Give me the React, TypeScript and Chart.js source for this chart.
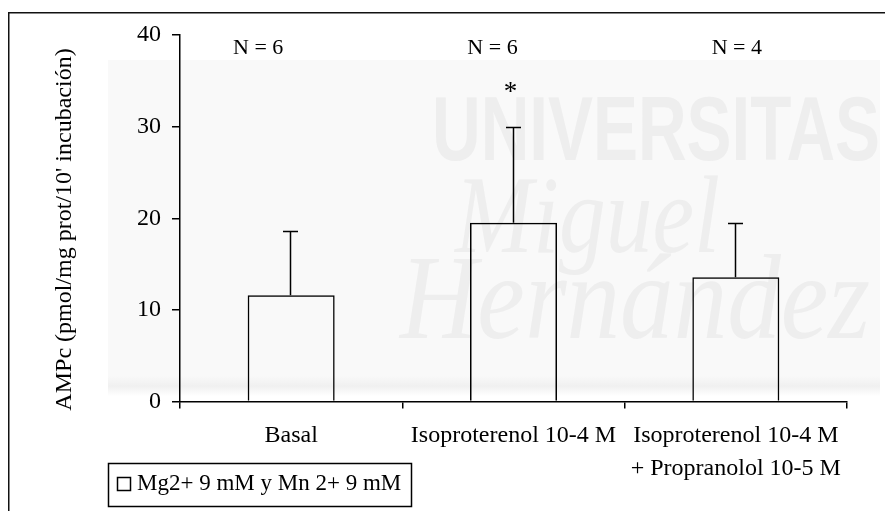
import React, { useEffect, useRef } from "react";
import { Chart, registerables } from "chart.js";

Chart.register(...registerables);

// ---- data ----
const CATEGORIES: (string | string[])[] = [
  "Basal",
  "Isoproterenol 10-4 M",
  ["Isoproterenol 10-4 M", "+ Propranolol 10-5 M"],
];
const MEAN_VALUES = [11.6, 19.5, 13.55];
const ERROR_TOP = [18.6, 30.0, 19.45];
const N_LABELS = ["N = 6", "N = 6", "N = 4"];
const SIGNIFICANCE = ["", "*", ""];
const SERIES_LABEL = "Mg2+ 9 mM y Mn 2+ 9 mM";
const Y_TICKS = [0, 10, 20, 30, 40];
const Y_TITLE = "AMPc (pmol/mg prot/10' incubación)";
const WATERMARK = ["UNIVERSITAS", "Miguel", "Hernández"];

const SERIF = "'Liberation Serif', 'Times New Roman', serif";
const SANS = "'Liberation Sans', Arial, sans-serif";
const INK = "#000";

const watermarkPlugin = {
  id: "watermark",
  beforeDraw(chart: any) {
    const ctx = chart.ctx as CanvasRenderingContext2D;
    ctx.save();
    ctx.fillStyle = "#f9f9f9";
    ctx.fillRect(108, 60, 772, 320);
    const g = ctx.createLinearGradient(0, 376, 0, 396);
    g.addColorStop(0, "#f9f9f9");
    g.addColorStop(0.5, "#f0f0f0");
    g.addColorStop(1, "#ffffff");
    ctx.fillStyle = g;
    ctx.fillRect(108, 376, 772, 20);
    ctx.fillStyle = "#eeeeee";
    ctx.textBaseline = "alphabetic";
    ctx.textAlign = "left";
    ctx.font = `bold 90px ${SANS}`;
    ctx.fillText(WATERMARK[0], 432, 160, 448);
    ctx.font = `italic 110px ${SERIF}`;
    ctx.fillText(WATERMARK[1], 455, 252, 265);
    ctx.font = `italic 120px ${SERIF}`;
    ctx.fillText(WATERMARK[2], 400, 338, 470);
    ctx.restore();
  },
};

const errorBarPlugin = {
  id: "errorBars",
  afterDatasetsDraw(chart: any) {
    const meta = chart.getDatasetMeta(0);
    const yScale = chart.scales.y;
    const ctx = chart.ctx as CanvasRenderingContext2D;
    ctx.save();
    ctx.strokeStyle = INK;
    ctx.lineWidth = 1.5;
    meta.data.forEach((bar: any, i: number) => {
      const x = Math.round(bar.x) - 0.5;
      const top = Math.round(yScale.getPixelForValue(ERROR_TOP[i])) + 0.5;
      ctx.beginPath();
      ctx.moveTo(x, bar.y);
      ctx.lineTo(x, top);
      ctx.moveTo(x - 7.5, top);
      ctx.lineTo(x + 7.5, top);
      ctx.stroke();
    });
    ctx.restore();
  },
};

const N_OFFSETS = [-33, -21, 1];

const annotationPlugin = {
  id: "annotations",
  afterDraw(chart: any) {
    const ctx = chart.ctx as CanvasRenderingContext2D;
    const meta = chart.getDatasetMeta(0);
    ctx.save();
    ctx.fillStyle = INK;
    ctx.strokeStyle = INK;
    // N labels and significance marks
    ctx.textAlign = "center";
    ctx.textBaseline = "alphabetic";
    meta.data.forEach((bar: any, i: number) => {
      ctx.font = `22px ${SERIF}`;
      ctx.fillText(N_LABELS[i], bar.x + N_OFFSETS[i], 54);
      if (SIGNIFICANCE[i]) {
        ctx.font = `27px ${SERIF}`;
        ctx.fillText(SIGNIFICANCE[i], bar.x - 3, 100);
      }
    });
    // y-axis title
    ctx.save();
    ctx.translate(65, 229.5);
    ctx.rotate(-Math.PI / 2);
    ctx.font = `24px ${SERIF}`;
    ctx.textBaseline = "middle";
    ctx.fillText(Y_TITLE, 0, 0);
    ctx.restore();
    // legend
    const ds = chart.data.datasets[0];
    ctx.lineWidth = 1.5;
    ctx.strokeRect(108.5, 463.5, 303, 43);
    ctx.strokeStyle = ds.borderColor;
    ctx.strokeRect(117.5, 477.5, 13, 13);
    ctx.textAlign = "left";
    ctx.font = `23px ${SERIF}`;
    ctx.fillText(ds.label, 137, 490);
    // outer frame
    ctx.strokeStyle = "#111";
    ctx.lineWidth = 1.5;
    ctx.beginPath();
    ctx.moveTo(8.75, 511);
    ctx.lineTo(8.75, 12.75);
    ctx.lineTo(885, 12.75);
    ctx.stroke();
    ctx.restore();
  },
};

export default function App() {
  const ref = useRef<HTMLCanvasElement>(null);
  useEffect(() => {
    document.body.style.margin = "0";
    document.body.style.overflow = "hidden";
    const canvas = ref.current!;
    const chart = new Chart(canvas, {
      type: "bar",
      data: {
        labels: CATEGORIES as any,
        datasets: [
          {
            label: SERIES_LABEL,
            data: MEAN_VALUES,
            backgroundColor: "rgba(255,255,255,0)",
            borderColor: INK,
            borderWidth: 1.5,
            barPercentage: 87 / 222.3,
            categoryPercentage: 1,
          },
        ],
      },
      options: {
        responsive: false,
        animation: false,
        layout: { padding: { left: 0, right: 38, top: 35, bottom: 0 } },
        plugins: { legend: { display: false }, tooltip: { enabled: false } },
        scales: {
          x: {
            offset: true,
            grid: {
              display: true,
              drawOnChartArea: false,
              drawTicks: true,
              tickLength: 7,
              offset: true,
              color: INK,
              lineWidth: 1.5,
            },
            border: { display: true, color: INK, width: 1.5 },
            ticks: {
              color: INK,
              font: { family: SERIF, size: 24, lineHeight: "33px" },
              padding: 11,
              maxRotation: 0,
              autoSkip: false,
            },
            afterFit: (axis: any) => {
              axis.height = 109.5;
            },
          },
          y: {
            min: 0,
            max: 40,
            afterBuildTicks: (axis: any) => {
              axis.ticks = Y_TICKS.map((v) => ({ value: v }));
            },
            grid: {
              drawOnChartArea: false,
              drawTicks: true,
              tickLength: 8,
              color: INK,
              lineWidth: 1.5,
            },
            border: { display: true, color: INK, width: 1.5 },
            ticks: { color: INK, font: { family: SERIF, size: 24 }, padding: 11 },
            afterFit: (axis: any) => {
              axis.width = 180;
            },
          },
        },
      } as any,
      plugins: [watermarkPlugin, errorBarPlugin, annotationPlugin],
    });
    return () => chart.destroy();
  }, []);
  return (
    <canvas ref={ref} width={885} height={511} style={{ display: "block" }} />
  );
}
